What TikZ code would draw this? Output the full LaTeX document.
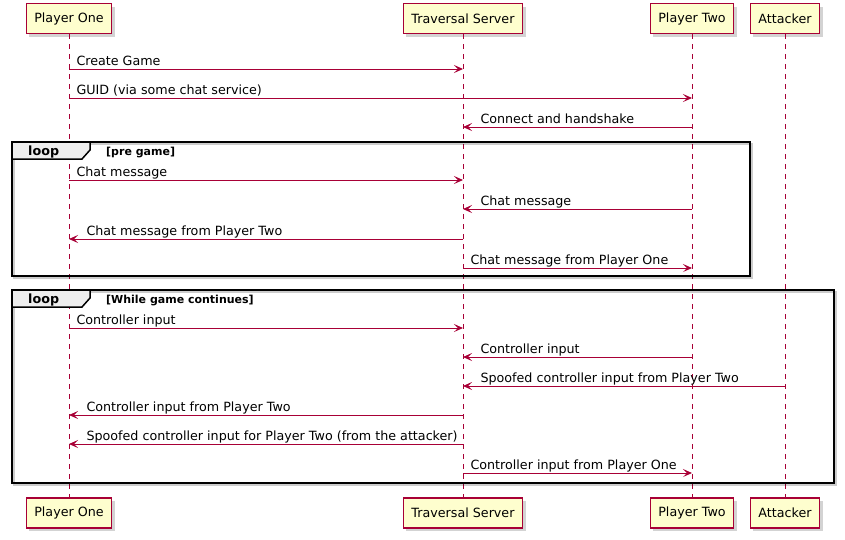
\documentclass[tikz,border=0pt]{standalone}
\usepackage{fontspec}
\setmainfont{DejaVu Sans}
\usetikzlibrary{arrows.meta,shadows}

\definecolor{umlred}{HTML}{A80036}
\definecolor{umlfill}{HTML}{FEFECE}
\definecolor{umltab}{HTML}{EEEEEE}

\tikzset{
	actor/.style={draw=umlred,fill=umlfill,line width=1.5pt,minimum height=30pt,inner xsep=8pt,
		drop shadow={shadow xshift=3pt,shadow yshift=-3pt,opacity=0.35,fill=gray,draw=none}},
	lifeline/.style={umlred,line width=1pt,dash pattern=on 5pt off 5pt},
	msg/.style={->,umlred,line width=1pt},
	rlbl/.style={text=black,anchor=base west,inner sep=0,pos=0,xshift=7pt,yshift=4pt},
	llbl/.style={text=black,anchor=base west,inner sep=0,pos=1,xshift=17pt,yshift=4pt},
	frame/.style={draw=black,line width=1.5pt},
	frameshadow/.style={draw=black,opacity=0.2,line width=2pt,xshift=2pt,yshift=-2pt},
	looptab/.style={draw=black,fill=umltab,line width=1.5pt},
	loopname/.style={anchor=base west,inner sep=0,font=\fontsize{12.7}{15}\selectfont\bfseries},
	loopcond/.style={anchor=base west,inner sep=0,font=\fontsize{11}{13}\selectfont\bfseries}
}

\begin{document}
\begin{tikzpicture}[x=1pt,y=-1pt,>={Stealth[length=9pt,width=8pt,inset=4pt]},font=\fontsize{12.7}{15}\selectfont]

\useasboundingbox (0,0) rectangle (845,539);

% participants
\node [actor] (p1) at (69,18.5) {Player One};
\node [actor] (ts) at (463,18.5) {Traversal Server};
\node [actor] (p2) at (692,18.5) {Player Two};
\node [actor] (att) at (785,18.5) {Attacker};

\node [actor] (p1b) at (69,513) {Player One};
\node [actor] (tsb) at (463,513) {Traversal Server};
\node [actor] (p2b) at (692,513) {Player Two};
\node [actor] (attb) at (785,513) {Attacker};

% lifelines
\draw [lifeline] (p1.south) -- (p1b.north);
\draw [lifeline] (ts.south) -- (tsb.north);
\draw [lifeline] (p2.south) -- (p2b.north);
\draw [lifeline] (att.south) -- (attb.north);

% setup
\draw [msg] (p1 |- 0,69) -- node [rlbl] {Create Game} (ts |- 0,69);
\draw [msg] (p1 |- 0,98) -- node [rlbl] {GUID (via some chat service)} (p2 |- 0,98);
\draw [msg] (p2 |- 0,127) -- node [llbl] {Connect and handshake} (ts |- 0,127);

% loop: pre game
\draw [frameshadow] (12,142) rectangle (750,276);
\draw [frame] (12,142) rectangle (750,276);
\draw [looptab] (12,142) -- (90,142) -- (90,150) -- (82,159) -- (12,159) -- cycle;
\node [loopname] (l1) at (28,155) {loop};
\node [loopcond] (c1) at (106,155) {[pre game]};

\draw [msg] (p1 |- 0,180) -- node [rlbl] {Chat message} (ts |- 0,180);
\draw [msg] (p2 |- 0,209) -- node [llbl] {Chat message} (ts |- 0,209);
\draw [msg] (ts |- 0,239) -- node [llbl] {Chat message from Player Two} (p1 |- 0,239);
\draw [msg] (ts |- 0,268) -- node [rlbl] {Chat message from Player One} (p2 |- 0,268);

% loop: in game
\draw [frameshadow] (12,290) rectangle (834,483);
\draw [frame] (12,290) rectangle (834,483);
\draw [looptab] (12,290) -- (90,290) -- (90,298) -- (82,307) -- (12,307) -- cycle;
\node [loopname] (l2) at (28,303) {loop};
\node [loopcond] (c2) at (106,303) {[While game continues]};

\draw [msg] (p1 |- 0,328) -- node [rlbl] {Controller input} (ts |- 0,328);
\draw [msg] (p2 |- 0,357) -- node [llbl] {Controller input} (ts |- 0,357);
\draw [msg] (att |- 0,386) -- node [llbl] {Spoofed controller input from Player Two} (ts |- 0,386);
\draw [msg] (ts |- 0,415) -- node [llbl] {Controller input from Player Two} (p1 |- 0,415);
\draw [msg] (ts |- 0,444) -- node [llbl] {Spoofed controller input for Player Two (from the attacker)} (p1 |- 0,444);
\draw [msg] (ts |- 0,473) -- node [rlbl] {Controller input from Player One} (p2 |- 0,473);

\end{tikzpicture}
\end{document}
